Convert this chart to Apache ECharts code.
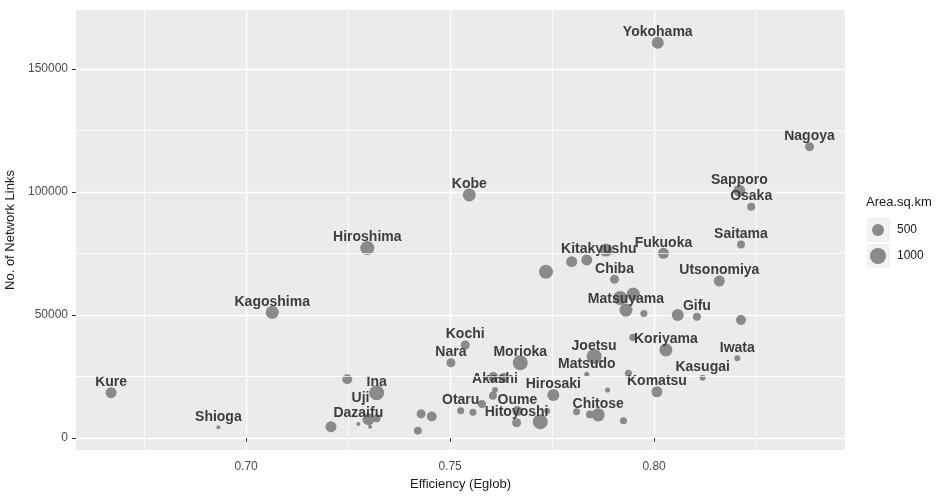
<!DOCTYPE html>
<html>
<head>
<meta charset="utf-8">
<script src="https://cdn.jsdelivr.net/npm/echarts@6/dist/echarts.min.js"></script>
<style>
html, body { margin: 0; background: #fff; }
#chart { width: 945px; height: 497px; }
</style>
</head>
<body>
<div id="chart"></div>
<script>
// cities (empty name = point whose label was dropped in the original)
const cities = ['Yokohama','Nagoya','Kobe','Sapporo','Osaka','Saitama','Utsonomiya','','Fukuoka','Kitakyushu',
  '','','','Chiba','','','Matsuyama','','Gifu','',
  'Koriyama','','Iwata','Kasugai','Komatsu','','Joetsu','Matsudo','','Chitose',
  '','','','Hirosaki','Hitoyoshi','Oume','','','Otaru','',
  '','','Akashi','','','Morioka','Kochi','Nara','Kagoshima','Hiroshima',
  'Kure','Shioga','','Ina','Uji','','Dazaifu','','','',
  '',''];
const efficiency = [0.8009,0.8381,0.7547,0.8209,0.8238,0.8213,0.8160,0.8213,0.8023,0.7835,
  0.7882,0.7798,0.7735,0.7903,0.7917,0.7949,0.7931,0.7975,0.8105,0.8058,
  0.8029,0.7948,0.8204,0.8119,0.8007,0.7937,0.7853,0.7835,0.7886,0.7863,
  0.7810,0.7843,0.7925,0.7753,0.7663,0.7665,0.7721,0.7738,0.7526,0.7556,
  0.7578,0.7605,0.7610,0.7606,0.7631,0.7672,0.7537,0.7502,0.7064,0.7297,
  0.6669,0.6932,0.7248,0.7320,0.7300,0.7320,0.7275,0.7304,0.7208,0.7429,
  0.7455,0.7421];
const links = [160700,118400,98800,100500,94000,78700,63800,48000,75100,72400,
  76400,71700,67600,64500,56900,58500,52000,50600,49300,50000,
  35800,40900,32400,24500,18800,26300,33100,25900,19500,9400,
  10700,9600,7000,17500,6200,11000,6600,11000,11100,10500,
  13800,17200,19500,24800,24400,30600,37800,30600,51100,77200,
  18400,4350,23900,18400,7600,8000,5700,4600,4600,9800,
  8700,3000];
const areaSqKm = [500,240,610,500,170,170,400,310,400,400,
  610,400,730,240,730,610,610,120,170,500,
  610,120,70,70,400,120,860,40,40,610,
  120,170,120,500,240,310,860,70,120,120,
  170,170,70,310,310,860,240,240,610,730,
  400,15,310,860,500,170,15,15,400,240,
  310,170];

const xTicks = [0.70, 0.75, 0.80];
const xMinor = [0.675, 0.725, 0.775, 0.825];
const yTicks = [0, 50000, 100000, 150000];
const yMinor = [25000, 75000, 125000];
const legendAreas = [500, 1000];

// a few labels sit off their point in the original
const labelShift = { Uji: [-8, -11], Kitakyushu: [12, 0] };

const sizeOf = a => 2.34 + 0.432 * Math.sqrt(a);
const X_MIN = 0.6583, X_MAX = 0.8468, Y_MIN = -4880, Y_MAX = 174000;
const PANEL = '#ebebeb', GREY = '#8a8a8a', TXT = '#4d4d4d';
const LABEL_UP = 10.5;

// label centre sits a fixed distance above the point centre (like ggplot vjust)
const points = cities.map((c, i) => {
  const s = sizeOf(areaSqKm[i]);
  const sh = labelShift[c] || [0, 0];
  return {
    name: c,
    value: [efficiency[i], links[i], areaSqKm[i]],
    label: { position: [s / 2 + sh[0], s / 2 - LABEL_UP + sh[1]] }
  };
});

function xAxisCfg(major) {
  return {
    type: 'value', min: X_MIN, max: X_MAX, position: 'bottom', alignTicks: false,
    name: major ? 'Efficiency (Eglob)' : '', nameLocation: 'middle', nameGap: 28,
    nameTextStyle: { fontFamily: 'Liberation Sans', fontSize: 13, color: '#1a1a1a' },
    axisLine: { show: false },
    axisTick: { show: major, length: 4, customValues: major ? xTicks : xMinor, lineStyle: { color: '#333' } },
    axisLabel: { show: major, customValues: xTicks, margin: 11, color: TXT, fontFamily: 'Liberation Sans', fontSize: 12,
      formatter: v => v.toFixed(2) },
    splitLine: { show: true, lineStyle: { color: '#fff', width: major ? 1.4 : 0.7 } }
  };
}
function yAxisCfg(major) {
  return {
    type: 'value', min: Y_MIN, max: Y_MAX, position: 'left', alignTicks: false,
    name: major ? 'No. of Network Links' : '', nameLocation: 'middle', nameGap: 46,
    nameTextStyle: { fontFamily: 'Liberation Sans', fontSize: 13, color: '#1a1a1a' },
    axisLine: { show: false },
    axisTick: { show: major, length: 4, customValues: major ? yTicks : yMinor, lineStyle: { color: '#333' } },
    axisLabel: { show: major, customValues: yTicks, margin: 8, color: TXT, fontFamily: 'Liberation Sans', fontSize: 12,
      formatter: v => String(v) },
    splitLine: { show: true, lineStyle: { color: '#fff', width: major ? 1.4 : 0.7 } }
  };
}

const legendGraphics = [
  { type: 'text', left: 866, top: 196, style: { text: 'Area.sq.km', fill: '#1a1a1a', font: '13px "Liberation Sans"' } }
];
legendAreas.forEach((a, k) => {
  const cy = 230 + k * 26;
  legendGraphics.push(
    { type: 'rect', shape: { x: 867, y: cy - 12, width: 23, height: 24 }, style: { fill: '#f2f2f2' } },
    { type: 'circle', shape: { cx: 878, cy: cy, r: sizeOf(a) / 2 }, style: { fill: GREY } },
    { type: 'text', x: 897, y: cy, style: { text: String(a), fill: '#1a1a1a', font: '12px "Liberation Sans"', textVerticalAlign: 'middle' } }
  );
});

const chart = echarts.init(document.getElementById('chart'), null, { renderer: 'canvas' });
chart.setOption({
  animation: false,
  backgroundColor: '#fff',
  grid: { left: 76, right: 100, top: 10, bottom: 47, show: true, backgroundColor: PANEL, borderWidth: 0, outerBoundsMode: 'none' },
  xAxis: [xAxisCfg(true), xAxisCfg(false)],
  yAxis: [yAxisCfg(true), yAxisCfg(false)],
  series: [{
    // carries the minor horizontal grid lines, beneath the points
    type: 'scatter', z: 1, silent: true, data: [],
    markLine: {
      silent: true, symbol: 'none', label: { show: false },
      lineStyle: { color: '#fff', width: 0.7, type: 'solid' },
      data: yMinor.map(v => ({ yAxis: v }))
    }
  }, {
    type: 'scatter', z: 2,
    xAxisIndex: 0, yAxisIndex: 0,
    data: points,
    symbolSize: v => sizeOf(v[2]),
    itemStyle: { color: GREY, opacity: 1 },
    label: {
      show: true, align: 'center', verticalAlign: 'middle',
      formatter: p => p.name,
      fontFamily: 'Liberation Sans', fontWeight: 'bold', fontSize: 14, color: '#3d3d3d'
    },
    labelLayout: { hideOverlap: false }
  }],
  graphic: legendGraphics
});
</script>
</body>
</html>
